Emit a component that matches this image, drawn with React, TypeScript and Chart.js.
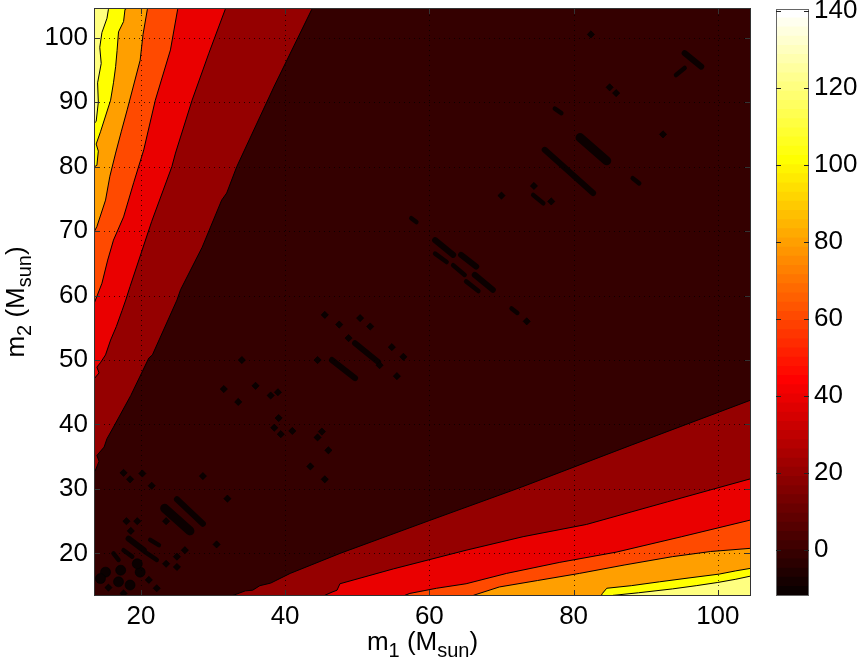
import React, { useEffect, useRef } from "react";
import { Chart, registerables } from "chart.js";

Chart.register(...registerables);

const FONT = "'Liberation Sans', Arial, Helvetica, sans-serif";

// axis ranges
const X_MIN = 13.5;
const X_MAX = 104.6;
const Y_MIN = 13.4;
const Y_MAX = 104.6;
const C_MIN = -12;
const C_MAX = 140.5;

// tick labels
const xTicks = [20, 40, 60, 80, 100];
const yTicks = [20, 30, 40, 50, 60, 70, 80, 90, 100];
const cbTicks = [0, 20, 40, 60, 80, 100, 120, 140];

// axis titles (text, isSubscript)
const xTitle: [string, boolean][] = [["m", false], ["1", true], [" (M", false], ["sun", true], [")", false]];
const yTitle: [string, boolean][] = [["m", false], ["2", true], [" (M", false], ["sun", true], [")", false]];

// filled contour colours (hot colormap): below 0, ~0, ~20, ~40, ~60, ~80, ~100, ~120
const levelColors = ["#0b0000", "#340000", "#950000", "#ea0000", "#ff4a00", "#ff9f00", "#ffff00", "#ffff80"];

// contour boundaries, upper-left wedge (m2 >> m1), from outer level to inner level
const upper10 = [[12.8, 31.5], [13.7, 32.9], [14.2, 34.3], [13.9, 35.2], [14.9, 36.5], [15.3, 37.8], [16.2, 39.6], [18.6, 44.5], [21.1, 50.3], [21.6, 50.8], [25.0, 59.3], [25.5, 60.9], [28.5, 67.5], [31.2, 74.8], [31.9, 75.9], [33.3, 80.0], [38.5, 92.5], [43.7, 104.4], [44.0, 105.2]];
const upper30 = [[12.8, 46.8], [13.6, 47.2], [14.2, 48.0], [13.9, 48.9], [14.4, 49.6], [15.1, 50.8], [15.8, 53.1], [16.6, 55.2], [17.4, 57.7], [17.9, 59.3], [18.5, 61.4], [21.5, 71.5], [24.3, 80.0], [24.8, 82.1], [27.1, 90.3], [29.4, 97.5], [31.7, 104.4], [31.9, 105.2]];
const upper50 = [[12.8, 56.8], [13.7, 59.3], [14.6, 61.9], [15.4, 65.5], [16.2, 68.6], [17.6, 72.2], [19.0, 77.5], [20.4, 82.6], [22.0, 90.3], [24.1, 98.1], [25.1, 104.4], [25.2, 105.2]];
const upper70 = [[12.8, 68.3], [13.9, 70.7], [15.1, 74.8], [15.7, 78.5], [16.5, 82.1], [17.3, 85.5], [18.1, 88.8], [19.9, 96.5], [20.3, 100.5], [20.9, 104.4], [21.0, 105.2]];
const upper90 = [[12.8, 79.5], [13.9, 80.2], [14.1, 82.4], [13.8, 83.5], [14.4, 85.4], [15.8, 90.3], [16.2, 93.0], [16.5, 95.5], [16.7, 98.0], [16.9, 100.9], [17.6, 102.5], [17.8, 104.4], [17.9, 105.2]];
const upper110 = [[12.8, 86.0], [13.8, 87.0], [14.1, 90.0], [14.0, 93.0], [14.5, 96.0], [14.3, 98.5], [14.6, 100.8], [15.3, 103.0], [15.5, 104.4], [15.6, 105.2]];

// contour boundaries, lower-right wedge (m1 >> m2)
const lower10 = [[31.5, 12.8], [32.8, 13.5], [34.5, 14.2], [35.5, 14.3], [36.5, 15.0], [38.0, 15.4], [40.7, 16.9], [47.6, 20.0], [60.0, 25.1], [72.8, 30.3], [88.0, 36.8], [104.6, 43.8], [105.3, 44.1]];
const lower30 = [[44.8, 12.8], [45.5, 13.5], [46.5, 14.0], [47.2, 14.3], [47.6, 15.3], [55.0, 17.6], [65.1, 20.5], [73.0, 22.6], [81.8, 24.5], [93.0, 28.0], [104.6, 31.6], [105.3, 31.8]];
const lower50 = [[56.0, 12.8], [56.6, 13.5], [57.3, 13.8], [61.0, 14.6], [65.1, 15.3], [70.7, 16.9], [78.0, 18.6], [85.9, 20.2], [95.0, 22.6], [104.6, 25.2], [105.3, 25.4]];
const lower70 = [[65.5, 12.8], [66.1, 13.5], [69.7, 14.8], [75.0, 15.8], [80.8, 16.9], [87.0, 18.2], [93.7, 19.5], [99.0, 20.3], [104.6, 20.8], [105.3, 20.9]];
const lower90 = [[83.5, 12.8], [84.0, 13.8], [84.6, 14.6], [88.0, 15.0], [91.9, 15.6], [96.0, 16.2], [100.2, 16.8], [102.5, 17.3], [104.6, 17.7], [105.3, 17.8]];
const lower110 = [[84.8, 12.8], [85.5, 13.5], [89.0, 13.9], [93.7, 14.5], [97.0, 15.0], [100.0, 15.5], [102.5, 16.0], [104.6, 16.5], [105.3, 16.6]];

const upperBoundaries = [upper10, upper30, upper50, upper70, upper90, upper110];
const lowerBoundaries = [lower10, lower30, lower50, lower70, lower90, lower110];

// sub-zero islands along the diagonal (elongated)
const streaksWide = [
  [[23.3, 27.0], [26.8, 23.5]],
  [[80.9, 84.5], [84.6, 80.9]],
];
const streaksMid = [
  [[76.0, 82.6], [82.7, 75.9]],
  [[95.4, 97.6], [97.7, 95.5]],
  [[64.4, 66.3], [66.5, 64.5]],
  [[25.0, 28.4], [28.6, 24.6]],
  [[18.3, 22.3], [20.4, 20.5]],
  [[60.8, 68.6], [63.3, 66.3]],
  [[66.3, 63.2], [68.8, 60.9]],
  [[49.7, 52.6], [52.9, 49.7]],
  [[46.5, 50.0], [49.7, 47.2]],
];
const streaksThin = [
  [[94.2, 94.2], [95.4, 95.3]],
  [[77.4, 89.0], [78.3, 88.3]],
  [[88.2, 78.2], [89.1, 77.4]],
  [[74.4, 75.6], [75.8, 74.3]],
  [[57.5, 72.0], [58.2, 71.4]],
  [[60.8, 66.5], [62.4, 65.2]],
  [[63.3, 64.7], [64.9, 63.2]],
  [[65.1, 62.2], [66.8, 60.7]],
  [[71.4, 58.0], [72.2, 57.3]],
  [[21.3, 22.1], [22.5, 21.3]],
  [[20.6, 20.2], [22.2, 19.0]],
  [[16.2, 20.0], [16.9, 19.0]],
  [[17.6, 20.5], [18.8, 19.5]],
];
// sub-zero islands (small)
const dotsSmall = [
  [82.4, 100.5], [85.0, 92.3], [85.9, 91.4], [92.4, 85.0], [76.9, 74.6], [74.5, 77.0], [70.0, 75.5], [73.5, 56.0],
  [48.8, 53.4], [54.8, 52.0], [53.1, 49.2], [51.8, 55.2], [50.4, 56.5], [47.5, 55.5], [45.5, 57.0], [44.5, 50.0],
  [56.4, 50.5], [55.5, 47.5], [34.0, 50.0], [31.5, 45.5], [35.9, 46.0], [38.0, 44.5], [39.0, 45.0], [33.5, 43.5],
  [39.1, 41.0], [38.5, 39.5], [39.4, 38.5], [41.0, 39.0], [44.5, 38.0], [45.1, 38.9], [46.0, 36.0], [45.5, 31.5],
  [43.5, 33.5], [28.6, 32.0], [21.5, 30.5], [32.0, 28.5], [20.2, 32.4], [18.5, 31.5], [17.6, 32.5], [30.5, 21.4],
  [26.1, 20.5], [25.0, 19.5], [23.5, 18.4], [25.0, 17.9], [18.0, 25.0], [19.5, 25.0], [18.6, 23.5], [23.5, 25.0],
  [21.1, 15.9], [22.2, 14.6], [17.6, 13.8], [15.5, 14.7],
];
const dotsLarge = [
  [15.1, 17.1], [17.2, 17.4], [16.9, 15.6], [14.4, 16.1], [18.5, 15.1], [19.9, 17.1], [19.5, 18.4],
];

const toPts = (arr: number[][]) => arr.map(([x, y]) => ({ x, y }));

function drawRich(ctx: CanvasRenderingContext2D, parts: [string, boolean][], cx: number, baseline: number) {
  const widths = parts.map(([t, sub]) => {
    ctx.font = `${sub ? 20 : 26}px ${FONT}`;
    return ctx.measureText(t).width;
  });
  const total = widths.reduce((a, b) => a + b, 0);
  let x = cx - total / 2;
  ctx.textAlign = "left";
  ctx.textBaseline = "alphabetic";
  parts.forEach(([t, sub], i) => {
    ctx.font = `${sub ? 20 : 26}px ${FONT}`;
    ctx.fillText(t, x, baseline + (sub ? 7 : 0));
    x += widths[i];
  });
}

const mainFrame = {
  id: "mainFrame",
  afterDatasetsDraw(chart: any) {
    // dotted grid lines at the tick positions
    const { ctx, chartArea: a } = chart;
    const xs = chart.scales.x;
    const ys = chart.scales.y;
    ctx.save();
    ctx.beginPath();
    ctx.rect(a.left, a.top, a.width, a.height);
    ctx.clip();
    ctx.strokeStyle = "rgba(0,0,0,0.75)";
    ctx.lineWidth = 1;
    ctx.setLineDash([1, 4]);
    ctx.beginPath();
    xTicks.forEach((v) => {
      const px = Math.round(xs.getPixelForValue(v)) + 0.5;
      ctx.moveTo(px, a.bottom);
      ctx.lineTo(px, a.top);
    });
    yTicks.forEach((v) => {
      const py = Math.round(ys.getPixelForValue(v)) + 0.5;
      ctx.moveTo(a.left, py);
      ctx.lineTo(a.right, py);
    });
    ctx.stroke();
    ctx.restore();
  },
  afterDraw(chart: any) {
    const { ctx, chartArea: a } = chart;
    const xs = chart.scales.x;
    const ys = chart.scales.y;
    ctx.save();
    ctx.strokeStyle = "#333";
    ctx.lineWidth = 1;
    ctx.strokeRect(Math.round(a.left) + 0.5, Math.round(a.top) + 0.5, Math.round(a.width) - 1, Math.round(a.height) - 1);
    ctx.beginPath();
    xTicks.forEach((v) => {
      const px = Math.round(xs.getPixelForValue(v)) + 0.5;
      ctx.moveTo(px, a.bottom);
      ctx.lineTo(px, a.bottom - 6);
      ctx.moveTo(px, a.top);
      ctx.lineTo(px, a.top + 6);
    });
    yTicks.forEach((v) => {
      const py = Math.round(ys.getPixelForValue(v)) + 0.5;
      ctx.moveTo(a.left, py);
      ctx.lineTo(a.left + 6, py);
      ctx.moveTo(a.right, py);
      ctx.lineTo(a.right - 6, py);
    });
    ctx.stroke();
    ctx.fillStyle = "#000";
    drawRich(ctx, xTitle, (a.left + a.right) / 2, 650);
    ctx.translate(23.5, (a.top + a.bottom) / 2);
    ctx.rotate(-Math.PI / 2);
    drawRich(ctx, yTitle, 0, 0);
    ctx.restore();
  },
};

const cbFrame = {
  id: "cbFrame",
  afterDraw(chart: any) {
    const { ctx, chartArea: a } = chart;
    const ys = chart.scales.y;
    ctx.save();
    ctx.strokeStyle = "#666";
    ctx.lineWidth = 1;
    ctx.strokeRect(Math.round(a.left) + 0.5, Math.round(a.top) + 0.5, Math.round(a.width) - 1, Math.round(a.height) - 1);
    ctx.strokeStyle = "#222";
    ctx.beginPath();
    cbTicks.forEach((v) => {
      const py = Math.round(ys.getPixelForValue(v)) + 0.5;
      ctx.moveTo(a.left, py);
      ctx.lineTo(a.left + 5, py);
      ctx.moveTo(a.right, py);
      ctx.lineTo(a.right - 5, py);
    });
    ctx.stroke();
    ctx.restore();
  },
};

function hot(i: number) {
  const r = Math.min(1, i / 24);
  const g = Math.min(1, Math.max(0, (i - 24) / 24));
  const b = Math.min(1, Math.max(0, (i - 48) / 16));
  return `rgb(${Math.round(r * 255)},${Math.round(g * 255)},${Math.round(b * 255)})`;
}

function buildMainConfig(): any {
  const datasets: any[] = [];
  datasets.push({
    data: toPts([[X_MIN - 1, Y_MAX + 1], [X_MAX + 1, Y_MAX + 1]]),
    showLine: true,
    fill: "start",
    backgroundColor: levelColors[1],
    borderColor: "transparent",
    borderWidth: 1,
    pointRadius: 0,
  });
  upperBoundaries.forEach((b, k) => {
    datasets.push({
      data: toPts(b),
      showLine: true,
      fill: "end",
      backgroundColor: levelColors[k + 2],
      borderColor: "#000",
      borderWidth: 1,
      pointRadius: 0,
    });
  });
  lowerBoundaries.forEach((b, k) => {
    datasets.push({
      data: toPts(b),
      showLine: true,
      fill: "start",
      backgroundColor: levelColors[k + 2],
      borderColor: "#000",
      borderWidth: 1,
      pointRadius: 0,
    });
  });
  const addStreaks = (list: number[][][], w: number) =>
    list.forEach((s) =>
      datasets.push({
        data: toPts(s),
        showLine: true,
        fill: false,
        borderColor: levelColors[0],
        borderWidth: w,
        borderCapStyle: "round",
        pointRadius: 0,
      })
    );
  addStreaks(streaksWide, 9);
  addStreaks(streaksMid, 6);
  addStreaks(streaksThin, 4.5);
  datasets.push({
    data: toPts(dotsSmall),
    showLine: false,
    pointStyle: "rectRot",
    pointRadius: 3.6,
    backgroundColor: levelColors[0],
    borderColor: "#000",
    borderWidth: 0.6,
  });
  datasets.push({
    data: toPts(dotsLarge),
    showLine: false,
    pointStyle: "circle",
    pointRadius: 5,
    backgroundColor: levelColors[0],
    borderColor: "#000",
    borderWidth: 0.6,
  });
  datasets.forEach((d, i) => (d.order = datasets.length - i));

  const tickFont = { family: FONT, size: 26 };
  return {
    type: "scatter",
    data: { datasets },
    plugins: [mainFrame],
    options: {
      animation: false,
      responsive: false,
      events: [],
      layout: { padding: { left: 0, top: 8, right: 9, bottom: 0 } },
      elements: { line: { tension: 0 } },
      plugins: { legend: { display: false }, tooltip: { enabled: false } },
      scales: {
        x: {
          type: "linear",
          min: X_MIN,
          max: X_MAX,
          afterBuildTicks: (s: any) => {
            s.ticks = xTicks.map((value) => ({ value }));
          },
          afterFit: (s: any) => {
            s.height = 64;
            s.paddingLeft = 0;
            s.paddingRight = 0;
          },
          grid: { display: false, drawTicks: false },
          border: { display: false },
          ticks: { color: "#000", font: tickFont, padding: 5, maxRotation: 0, autoSkip: false },
        },
        y: {
          type: "linear",
          min: Y_MIN,
          max: Y_MAX,
          afterBuildTicks: (s: any) => {
            s.ticks = yTicks.map((value) => ({ value }));
          },
          afterFit: (s: any) => {
            s.width = 94;
            s.paddingTop = 0;
            s.paddingBottom = 0;
          },
          grid: { display: false, drawTicks: false },
          border: { display: false },
          ticks: { color: "#000", font: tickFont, padding: 6, autoSkip: false },
        },
      },
    },
  };
}

function buildColorbarConfig(): any {
  const n = 64;
  const step = (C_MAX - C_MIN) / n;
  const datasets = Array.from({ length: n }, (_, k) => ({
    data: [[C_MIN + k * step, C_MIN + (k + 1.05) * step]],
    backgroundColor: hot(k + 1),
    borderWidth: 0,
    barPercentage: 1,
    categoryPercentage: 1,
    grouped: false,
  }));
  return {
    type: "bar",
    data: { labels: [""], datasets },
    plugins: [cbFrame],
    options: {
      animation: false,
      responsive: false,
      events: [],
      layout: { padding: { left: 16, top: 9, right: 0, bottom: 64 } },
      plugins: { legend: { display: false }, tooltip: { enabled: false } },
      scales: {
        x: { display: false },
        y: {
          type: "linear",
          position: "right",
          min: C_MIN,
          max: C_MAX,
          afterBuildTicks: (s: any) => {
            s.ticks = cbTicks.map((value) => ({ value }));
          },
          afterFit: (s: any) => {
            s.width = 48;
            s.paddingTop = 0;
            s.paddingBottom = 0;
          },
          grid: { display: false, drawTicks: false },
          border: { display: false },
          ticks: { color: "#000", font: { family: FONT, size: 26 }, padding: 5, autoSkip: false },
        },
      },
    },
  };
}

export default function App() {
  const mainRef = useRef<HTMLCanvasElement>(null);
  const cbRef = useRef<HTMLCanvasElement>(null);
  useEffect(() => {
    const mainChart = new Chart(mainRef.current as HTMLCanvasElement, buildMainConfig());
    const cbChart = new Chart(cbRef.current as HTMLCanvasElement, buildColorbarConfig());
    return () => {
      mainChart.destroy();
      cbChart.destroy();
    };
  }, []);
  return (
    <div style={{ position: "absolute", left: 0, top: 0, width: 857, height: 660, background: "#fff" }}>
      <canvas ref={mainRef} width={760} height={660} style={{ position: "absolute", left: 0, top: 0, width: 760, height: 660 }} />
      <canvas ref={cbRef} width={97} height={660} style={{ position: "absolute", left: 760, top: 0, width: 97, height: 660 }} />
    </div>
  );
}
